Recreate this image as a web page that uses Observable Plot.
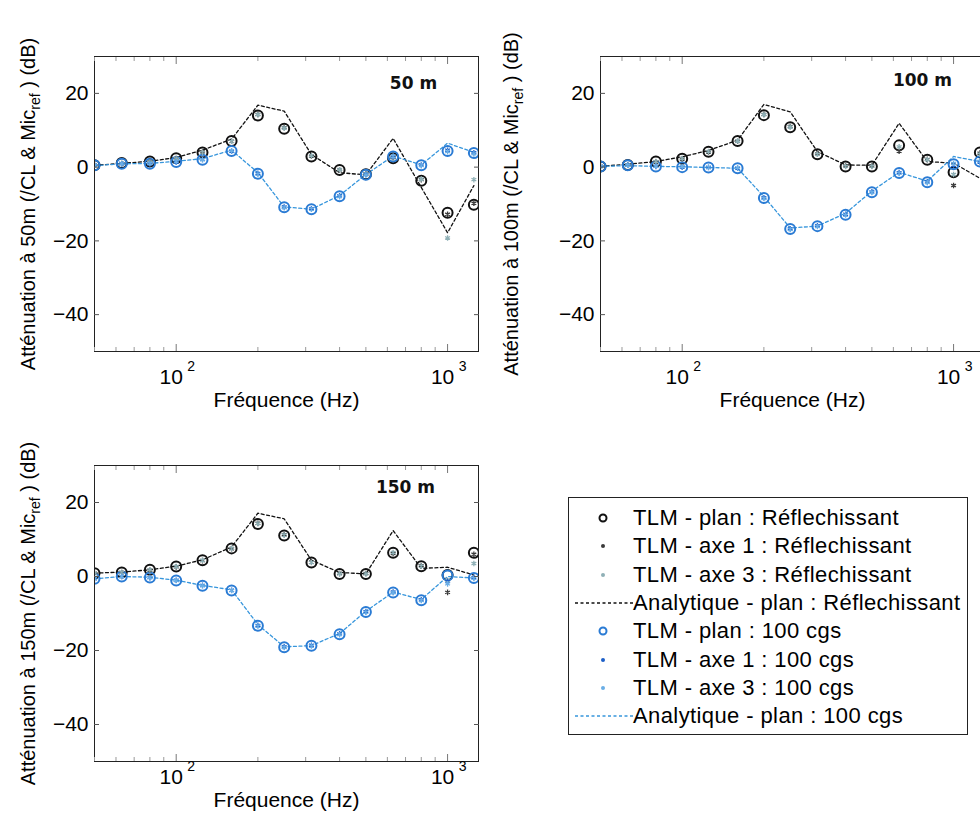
<!DOCTYPE html>
<html>
<head>
<meta charset="utf-8">
<script src="https://cdn.jsdelivr.net/npm/d3@7"></script>
<script src="https://cdn.jsdelivr.net/npm/@observablehq/plot@0.6"></script>
<style>
  body { margin: 0; background: #fff; font-family: "Liberation Sans", Arial, sans-serif; }
  #fig { position: relative; width: 980px; height: 823px; overflow: hidden; background: #fff; }
  .panel { position: absolute; width: 490px; }
  .panel svg { max-width: none !important; }
  #legend { position: absolute; left: 568px; top: 497px; width: 400px; border: 1px solid #222;
            box-sizing: border-box; background: #fff; padding: 6px 0 4px 0; }
  .lrow { display: flex; align-items: center; height: 28.3px; font-size: 22px; letter-spacing: 0.4px; color: #000; white-space: nowrap; }
  .lrow svg { flex: none; display: block; }
</style>
</head>
<body>
<div id="fig">
  <div class="panel" id="p1" style="left:0px;top:0px;"></div>
  <div class="panel" id="p2" style="left:506px;top:0px;"></div>
  <div class="panel" id="p3" style="left:0px;top:405px;"></div>
  <div id="legend"></div>
</div>
<script>
// ---------------- data ----------------
const freqs = [50, 63, 80, 100, 125, 160, 200, 250, 315, 400, 500, 630, 800, 1000, 1250];
const yTicks = [-40, -20, 0, 20];
const xMajorTicks = [100, 1000];
const xMinorTicks = [50, 60, 70, 80, 90, 200, 300, 400, 500, 600, 700, 800, 900];
const panelTitles = ["50 m", "100 m", "150 m"];
const yLabelStarts = ["Atténuation à 50m (/CL & Mic", "Atténuation à 100m (/CL & Mic", "Atténuation à 150m (/CL & Mic"];
const yLabelSub = "ref";
const yLabelEnd = " ) (dB)";
const xLabel = "Fréquence (Hz)";

const seriesNames = [
  "TLM - plan : Réflechissant",
  "TLM - axe 1 : Réflechissant",
  "TLM - axe 3 : Réflechissant",
  "Analytique - plan : Réflechissant",
  "TLM - plan : 100 cgs",
  "TLM - axe 1 : 100 cgs",
  "TLM - axe 3 : 100 cgs",
  "Analytique - plan : 100 cgs"
];
const seriesColors = ["#111111", "#3a3a3a", "#8fb0b6", "#111111", "#2a7bd4", "#1d5fc8", "#6aaee6", "#3796dc"];
const seriesKinds = ["ring", "star", "star", "line", "ring", "star", "star", "line"];

// 50 m
const ref_plan_50 = [0.5, 1.1, 1.5, 2.4, 4.0, 7.1, 14.0, 10.4, 2.9, -0.8, -1.9, 2.4, -3.7, -12.4, -10.2];
const ref_axe1_50 = [0.5, 1.0, 1.5, 2.3, 4.1, 7.0, 14.3, 10.7, 3.0, -0.7, -1.8, 2.6, -3.4, -12.8, -9.8];
const ref_axe3_50 = [0.5, 1.0, 1.4, 2.3, 4.0, 7.0, 14.2, 10.6, 3.1, -0.7, -1.8, 2.5, -3.2, -19.2, -3.4];
const ref_ana_50  = [0.5, 1.0, 1.6, 2.6, 4.6, 7.6, 16.8, 15.2, 3.4, -1.5, -2.1, 7.8, -5.5, -17.8, -5.0];
const cgs_plan_50 = [0.5, 0.9, 0.9, 1.4, 2.0, 4.4, -1.8, -10.9, -11.4, -7.9, -2.1, 2.9, 0.5, 4.4, 3.8];
const cgs_axe1_50 = [0.5, 0.9, 0.9, 1.4, 2.1, 4.3, -1.7, -10.8, -11.3, -7.8, -2.0, 2.8, 0.6, 4.6, 3.9];
const cgs_axe3_50 = [0.5, 0.9, 1.0, 1.5, 2.0, 4.4, -1.9, -11.0, -11.4, -8.0, -2.1, 3.0, 0.4, 4.2, 3.6];
const cgs_ana_50  = [0.4, 0.9, 1.0, 1.6, 2.3, 4.6, -1.5, -10.8, -11.4, -7.7, -2.0, 3.0, 0.6, 6.5, 4.0];

// 100 m
const ref_plan_100 = [0.2, 0.6, 1.5, 2.3, 4.2, 7.1, 14.1, 10.8, 3.5, 0.2, 0.2, 5.9, 2.0, -1.4, 4.0];
const ref_axe1_100 = [0.2, 0.6, 1.4, 2.2, 4.1, 7.0, 14.3, 11.0, 3.6, 0.3, 0.3, 4.3, 2.1, -5.0, 3.8];
const ref_axe3_100 = [0.2, 0.6, 1.5, 2.3, 4.2, 7.1, 14.2, 10.9, 3.5, 0.2, 0.2, 5.5, 2.0, -2.0, 3.5];
const ref_ana_100  = [0.2, 0.8, 1.5, 2.8, 4.5, 7.3, 17.0, 15.0, 4.2, 0.6, 0.5, 11.9, 1.5, 1.1, -3.0];
const cgs_plan_100 = [0.2, 0.5, 0.2, 0.0, -0.1, -0.3, -8.4, -16.8, -16.0, -12.9, -6.8, -1.6, -4.1, 0.8, 1.5];
const cgs_axe1_100 = [0.2, 0.5, 0.2, 0.0, -0.1, -0.3, -8.3, -16.7, -15.9, -12.8, -6.7, -1.5, -4.0, 0.5, 1.4];
const cgs_axe3_100 = [0.2, 0.5, 0.3, 0.1, 0.0, -0.2, -8.5, -16.9, -16.1, -13.0, -6.9, -1.7, -4.2, 1.0, 1.6];
const cgs_ana_100  = [0.2, 0.4, 0.2, 0.1, -0.1, -0.3, -8.0, -16.5, -16.0, -12.5, -6.5, -1.4, -3.8, 2.9, 1.5];

// 150 m
const ref_plan_150 = [0.9, 1.1, 1.8, 2.7, 4.4, 7.6, 14.2, 11.1, 3.8, 0.7, 0.7, 6.4, 2.8, 0.4, 6.4];
const ref_axe1_150 = [0.9, 1.1, 1.7, 2.6, 4.3, 7.5, 14.4, 11.3, 3.9, 0.8, 0.8, 6.2, 2.9, -4.3, 6.0];
const ref_axe3_150 = [0.9, 1.1, 1.8, 2.7, 4.4, 7.6, 14.3, 11.2, 3.8, 0.7, 0.7, 6.5, 2.8, -1.0, 3.5];
const ref_ana_150  = [0.9, 1.2, 1.8, 2.8, 4.5, 8.0, 17.1, 15.6, 4.4, 1.1, 0.7, 12.4, 2.2, 2.5, 0.4];
const cgs_plan_150 = [-0.6, 0.0, -0.3, -1.1, -2.5, -3.8, -13.3, -19.1, -18.7, -15.6, -9.6, -4.3, -6.4, 0.3, -0.4];
const cgs_axe1_150 = [-0.6, 0.0, -0.3, -1.0, -2.4, -3.7, -13.2, -19.0, -18.6, -15.5, -9.5, -4.2, -6.3, -1.3, -0.3];
const cgs_axe3_150 = [-0.6, 0.0, -0.3, -1.1, -2.5, -3.8, -13.4, -19.2, -18.8, -15.7, -9.7, -4.4, -6.5, -2.0, -0.5];
const cgs_ana_150  = [-0.6, 0.0, -0.2, -1.0, -2.4, -3.6, -13.0, -19.0, -18.7, -15.4, -9.4, -4.2, -6.2, 0.0, -0.4];

// ---------------- panels ----------------
const panels = [
  { id: "p1", title: panelTitles[0], ylab: yLabelStarts[0],
    series: [ref_plan_50, ref_axe1_50, ref_axe3_50, ref_ana_50, cgs_plan_50, cgs_axe1_50, cgs_axe3_50, cgs_ana_50],
    width: 490, height: 420, mT: 56, mB: 69, mL: 94, mR: 12,
    tickPad: 18, expPad: 10, xlabDy: 49, ylabDx: -66, titleDx: -65, titleDy: 27 },
  { id: "p2", title: panelTitles[1], ylab: yLabelStarts[1],
    series: [ref_plan_100, ref_axe1_100, ref_axe3_100, ref_ana_100, cgs_plan_100, cgs_axe1_100, cgs_axe3_100, cgs_ana_100],
    width: 490, height: 420, mT: 56, mB: 69, mL: 94, mR: 12,
    tickPad: 18, expPad: 10, xlabDy: 49, ylabDx: -89, titleDx: -62, titleDy: 24 },
  { id: "p3", title: panelTitles[2], ylab: yLabelStarts[2],
    series: [ref_plan_150, ref_axe1_150, ref_axe3_150, ref_ana_150, cgs_plan_150, cgs_axe1_150, cgs_axe3_150, cgs_ana_150],
    width: 490, height: 418, mT: 60, mB: 62, mL: 94, mR: 12,
    tickPad: 8, expPad: 0, xlabDy: 39, ylabDx: -66, titleDx: -73, titleDy: 22 }
];

function rows(arr) { return freqs.map((f, i) => ({ f, v: arr[i] })); }

panels.forEach(p => {
  const fullLabel = p.ylab + yLabelSub + yLabelEnd;
  const marks = [];
  // lines (analytique)
  [3, 7].forEach(k => {
    marks.push(Plot.line(rows(p.series[k]), { x: "f", y: "v", stroke: seriesColors[k], strokeWidth: 1.3, strokeDasharray: "3,2.5", clip: true }));
  });
  // rings (TLM plan)
  [0, 4].forEach(k => {
    marks.push(Plot.dot(rows(p.series[k]), { x: "f", y: "v", r: 5, stroke: seriesColors[k], strokeWidth: 2, fill: "none", clip: true }));
  });
  // small markers (axe 1 / axe 3)
  [1, 2, 5, 6].forEach(k => {
    marks.push(Plot.dot(rows(p.series[k]), { x: "f", y: "v", r: 2.6, symbol: "asterisk", stroke: seriesColors[k], strokeWidth: 1.3, clip: true }));
  });
  marks.push(
    Plot.frame({ stroke: "#222", strokeWidth: 1 }),
    // y tick labels
    Plot.axisY(yTicks, { anchor: "left", tickSize: 0, tickPadding: 6, fontSize: 21, label: null, style: { letterSpacing: "0.5px" } }),
    // inward y ticks left & right
    Plot.axisY(yTicks, { anchor: "left", tickSize: -5, tickFormat: () => "", label: null, stroke: "#555" }),
    Plot.axisY(yTicks, { anchor: "right", tickSize: -5, tickFormat: () => "", label: null, stroke: "#555" }),
    // x tick labels 10^n
    Plot.axisX(xMajorTicks, { anchor: "bottom", tickSize: 0, tickPadding: p.tickPad, dx: -5, fontSize: 21, tickFormat: () => "10", label: null }),
    Plot.axisX(xMajorTicks, { anchor: "bottom", tickSize: 0, tickPadding: p.expPad, dx: 15, fontSize: 14, tickFormat: d => String(Math.round(Math.log10(d))), label: null }),
    // inward x ticks
    Plot.axisX(xMajorTicks, { anchor: "bottom", tickSize: -7, tickFormat: () => "", label: null, stroke: "#777" }),
    Plot.axisX(xMajorTicks, { anchor: "top", tickSize: -7, tickFormat: () => "", label: null, stroke: "#777" }),
    Plot.axisX(xMinorTicks, { anchor: "bottom", tickSize: -4, tickFormat: () => "", label: null, stroke: "#999" }),
    Plot.axisX(xMinorTicks, { anchor: "top", tickSize: -4, tickFormat: () => "", label: null, stroke: "#999" }),
    // x label
    Plot.text([xLabel], { text: d => d, frameAnchor: "bottom", dy: p.xlabDy, lineAnchor: "middle", textAnchor: "middle", fontSize: 21, fill: "#000", style: { letterSpacing: "1px" } }),
    // y label
    Plot.text([fullLabel], { text: d => d, frameAnchor: "left", dx: p.ylabDx, rotate: -90, textAnchor: "middle", lineAnchor: "middle", fontSize: 20, fill: "#000" }),
    // panel title
    Plot.text([p.title], { text: d => d, frameAnchor: "top-right", dx: p.titleDx, dy: p.titleDy, textAnchor: "middle", lineAnchor: "middle", fontSize: 17, fontWeight: "bold", fontFamily: "DejaVu Sans", fill: "#111" })
  );

  const chart = Plot.plot({
    width: p.width, height: p.height,
    marginTop: p.mT, marginBottom: p.mB, marginLeft: p.mL, marginRight: p.mR,
    style: { fontFamily: "'Liberation Sans', Arial, sans-serif", fontSize: "21px", color: "#000", background: "transparent", overflow: "visible", maxWidth: "none" },
    x: { type: "log", domain: [50, 1300] },
    y: { domain: [-50, 30] },
    marks
  });

  // subscript for "Mic_ref"
  chart.querySelectorAll("text").forEach(t => {
    if (t.textContent === fullLabel) {
      while (t.firstChild) t.removeChild(t.firstChild);
      const ns = "http://www.w3.org/2000/svg";
      const a = document.createElementNS(ns, "tspan"); a.textContent = p.ylab;
      const b = document.createElementNS(ns, "tspan"); b.textContent = yLabelSub; b.setAttribute("dy", "5"); b.setAttribute("font-size", "14");
      const c = document.createElementNS(ns, "tspan"); c.textContent = yLabelEnd; c.setAttribute("dy", "-5");
      t.append(a, b, c);
    }
  });
  document.getElementById(p.id).appendChild(chart);
});

// ---------------- legend ----------------
const legend = document.getElementById("legend");
seriesNames.forEach((name, k) => {
  const row = document.createElement("div");
  row.className = "lrow";
  const ns = "http://www.w3.org/2000/svg";
  const svg = document.createElementNS(ns, "svg");
  svg.setAttribute("width", "64"); svg.setAttribute("height", "28");
  if (seriesKinds[k] === "ring") {
    const c = document.createElementNS(ns, "circle");
    c.setAttribute("cx", "34"); c.setAttribute("cy", "14"); c.setAttribute("r", "3.5");
    c.setAttribute("fill", "none"); c.setAttribute("stroke", seriesColors[k]); c.setAttribute("stroke-width", "2");
    svg.appendChild(c);
  } else if (seriesKinds[k] === "star") {
    const c = document.createElementNS(ns, "circle");
    c.setAttribute("cx", "34"); c.setAttribute("cy", "14"); c.setAttribute("r", "2");
    c.setAttribute("fill", seriesColors[k]);
    svg.appendChild(c);
  } else {
    const l = document.createElementNS(ns, "line");
    l.setAttribute("x1", "6"); l.setAttribute("x2", "64"); l.setAttribute("y1", "14"); l.setAttribute("y2", "14");
    l.setAttribute("stroke", seriesColors[k]); l.setAttribute("stroke-width", "1.3"); l.setAttribute("stroke-dasharray", "3,2.5");
    svg.appendChild(l);
  }
  const span = document.createElement("span");
  span.textContent = name;
  row.append(svg, span);
  legend.appendChild(row);
});
</script>
</body>
</html>
